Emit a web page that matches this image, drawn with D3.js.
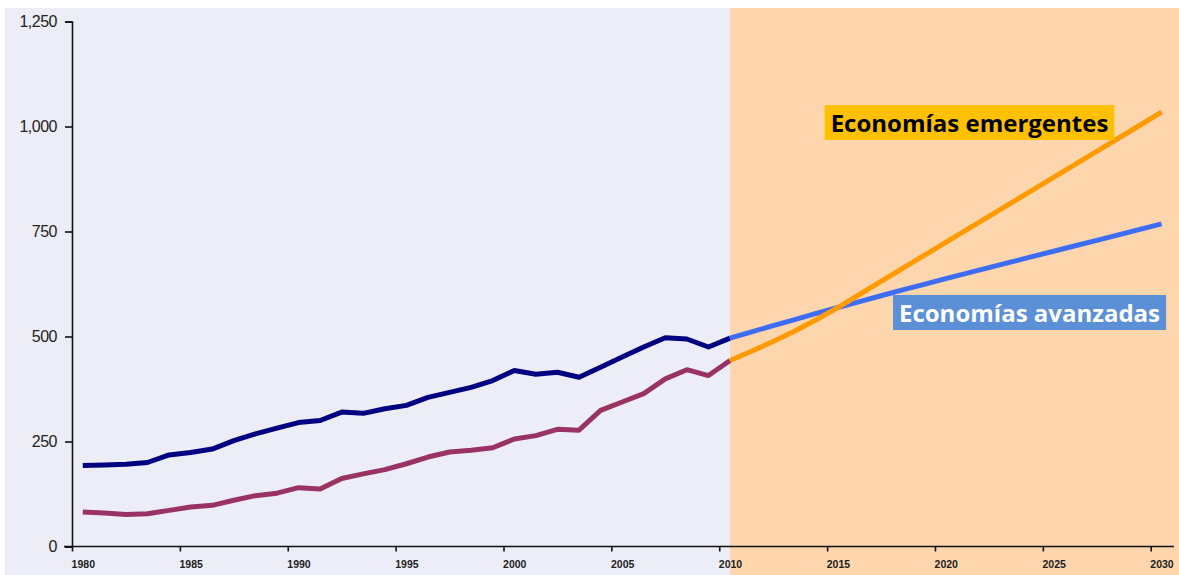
<!DOCTYPE html>
<meta charset="utf-8">
<style>
body { margin: 0; background: #fff; }
.tick text { font-family: Arial, "Liberation Sans", sans-serif; fill: #222; }
.domain, .tick line { stroke: #111; stroke-width: 1.6; }
.line { fill: none; stroke-width: 5; stroke-linejoin: round; }
.label { font-family: "Open Sans", sans-serif; font-weight: bold; }
</style>
<body>
<script src="https://d3js.org/d3.v7.min.js"></script>
<script>

var width = 1179, height = 575;

// historical years 1980-2010, forecast 2010-2030
var histYears = d3.range(1980, 2011);
var advancedHist = [193, 194, 196, 200, 218, 224, 232, 252, 268, 282, 295,
                    300, 320, 317, 328, 336, 355, 367, 379, 395, 419,
                    410, 415, 403, 427, 451, 475, 497, 494, 475, 496];
var emergingHist = [82, 80, 76, 78, 86, 94, 98, 110, 121, 127, 140,
                    137, 162, 173, 183, 197, 213, 225, 229, 235, 256,
                    264, 279, 277, 324, 344, 364, 399, 421, 407, 443];

var foreYears = d3.range(2010, 2031);
var advancedFore = [496, 511, 526, 540, 555, 569, 583, 597, 611, 624, 638,
                    651, 664, 677, 690, 703, 716, 729, 742, 755, 768];
var emergingFore = [443, 465, 488, 513, 540, 569, 600, 631, 662, 693, 724,
                    755, 786, 817, 848, 879, 910, 941, 972, 1003, 1034];

var xTicks = d3.range(1980, 2031, 5);
var yTicks = [0, 250, 500, 750, 1000, 1250];

var x = d3.scaleLinear().domain([1980, 2031]).range([72, 1172.3]);
var y = d3.scaleLinear().domain([0, 1250]).range([546.5, 21.5]);

var svg = d3.select("body").append("svg")
    .attr("width", width)
    .attr("height", height);

// backgrounds: history vs projection
svg.append("rect")
    .attr("x", 5).attr("y", 8)
    .attr("width", x(2010.5) - 5).attr("height", height - 8)
    .attr("fill", "#ededf7");
svg.append("rect")
    .attr("x", x(2010.5)).attr("y", 8)
    .attr("width", width - x(2010.5)).attr("height", height - 8)
    .attr("fill", "#fed6ae");

var line = d3.line()
    .x(function(d) { return x(d[0] + 0.5); })
    .y(function(d) { return y(d[1]); });

function pairs(years, vals) { return years.map(function(yr, i) { return [yr, vals[i]]; }); }

svg.append("path").attr("class", "line")
    .attr("d", line(pairs(histYears, emergingHist)))
    .attr("stroke", "#993366");
svg.append("path").attr("class", "line")
    .attr("d", line(pairs(histYears, advancedHist)))
    .attr("stroke", "#000080");
svg.append("path").attr("class", "line")
    .attr("d", line(pairs(foreYears, advancedFore)))
    .attr("stroke", "#3d6cf5");
svg.append("path").attr("class", "line")
    .attr("d", line(pairs(foreYears, emergingFore)))
    .attr("stroke", "#ff9a00");

// axes
var yAxis = svg.append("g")
    .attr("transform", "translate(72,0)")
    .call(d3.axisLeft(y).tickValues(yTicks).tickSize(7).tickPadding(8)
        .tickFormat(d3.format(",")));
yAxis.selectAll("text").style("font-size", "16px").style("letter-spacing", "-0.5px");

var xAxis = svg.append("g")
    .attr("transform", "translate(0," + y(0) + ")")
    .call(d3.axisBottom(x).tickValues(xTicks).tickSize(5).tickPadding(9)
        .tickSizeOuter(0).tickFormat(d3.format("d")));
xAxis.select(".domain").attr("d", "M64,0H1174");
xAxis.selectAll("text").style("font-size", "10.5px").style("font-weight", "bold")
    .attr("x", x(1980.5) - x(1980));

// labels
function label(text, cx, cy, fill, color, pad) {
    var g = svg.append("g");
    var r = g.append("rect").attr("fill", fill);
    var t = g.append("text").attr("class", "label")
        .attr("x", cx).attr("y", cy)
        .attr("text-anchor", "middle").attr("dominant-baseline", "central")
        .style("font-size", "24px").attr("fill", color)
        .text(text);
    var bb = t.node().getBBox();
    r.attr("x", bb.x - pad).attr("y", cy - 17.5)
        .attr("width", bb.width + 2 * pad).attr("height", 35);
}
label("Economías emergentes", 969.5, 122.5, "#ffc000", "#000", 6);
label("Economías avanzadas", 1029.5, 312.5, "#5b8fd6", "#fff", 6);

</script>
</body>
